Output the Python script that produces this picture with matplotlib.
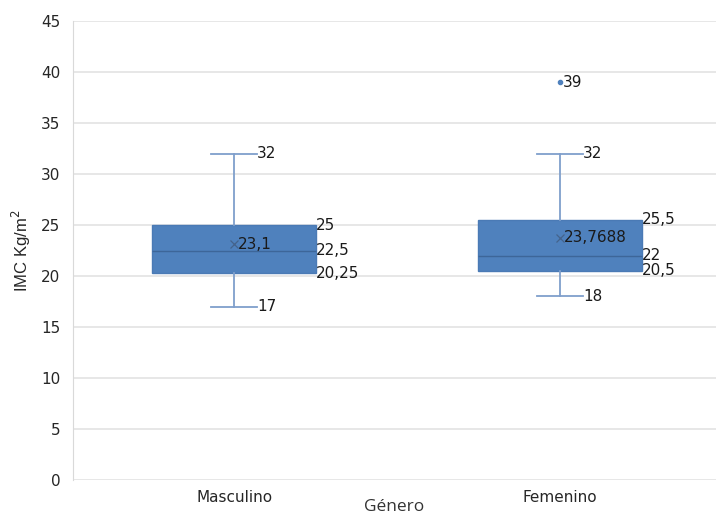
import matplotlib
matplotlib.use("Agg")
import matplotlib.pyplot as plt

categories = ["Masculino", "Femenino"]
whisker_low = [17, 18]
q1 = [20.25, 20.5]
median = [22.5, 22]
q3 = [25, 25.5]
whisker_high = [32, 32]
means = [23.1, 23.7688]
outliers = [[], [39]]
yticks = [0, 5, 10, 15, 20, 25, 30, 35, 40, 45]

def fmt(v):
    s = ("%g" % v) if v != int(v) else str(int(v))
    return s.replace(".", ",")

fig = plt.figure(figsize=(7.16, 5.15), dpi=100)
ax = fig.add_axes([0.102, 0.068, 0.898, 0.891])

stats = []
for i in range(len(categories)):
    stats.append(dict(med=median[i], q1=q1[i], q3=q3[i], whislo=whisker_low[i],
                      whishi=whisker_high[i], mean=means[i], fliers=outliers[i],
                      label=categories[i]))

box_w = 0.503
cap_w = 0.141
box_color = "#4F81BD"
ax.bxp(stats, positions=range(len(categories)), widths=box_w, capwidths=cap_w,
       showmeans=True, patch_artist=True, manage_ticks=False,
       boxprops=dict(facecolor=box_color, edgecolor="#4A7AB5", linewidth=1),
       medianprops=dict(color="#3D6699", linewidth=1),
       whiskerprops=dict(color="#7F9FCC", linewidth=1.3),
       capprops=dict(color="#7F9FCC", linewidth=1.3),
       meanprops=dict(marker="x", markeredgecolor="#44638C", markersize=6, markeredgewidth=0.9),
       flierprops=dict(marker="o", markerfacecolor=box_color, markeredgecolor=box_color, markersize=3))

ax.set_xlim(-0.494, 1.478)
ax.set_ylim(0, 45)
ax.set_yticks(yticks)
ax.set_xticks(range(len(categories)))
ax.set_xticklabels(categories)
ax.yaxis.grid(True, color="#E3E3E3", linewidth=1.2)
ax.set_axisbelow(True)
for s in ["top", "right", "bottom"]:
    ax.spines[s].set_visible(False)
ax.spines["left"].set_color("#D9D9D9")
ax.tick_params(length=0, labelsize=11, labelcolor="#262626")
for lab in ax.get_xticklabels() + ax.get_yticklabels():
    lab.set_family("DejaVu Sans")
ax.tick_params(axis="y", pad=9)
ax.tick_params(axis="x", pad=7)

lfs = 11
lc = "#1a1a1a"
fam = "DejaVu Sans"
for i in range(len(categories)):
    x = i
    capx = x + cap_w / 2
    boxx = x + box_w / 2
    ax.text(capx, whisker_high[i], fmt(whisker_high[i]), va="center", ha="left", fontsize=lfs, color=lc, family=fam)
    ax.text(capx, whisker_low[i], fmt(whisker_low[i]), va="center", ha="left", fontsize=lfs, color=lc, family=fam)
    ax.text(boxx, q3[i], fmt(q3[i]), va="center", ha="left", fontsize=lfs, color=lc, family=fam)
    ax.text(boxx, median[i], fmt(median[i]), va="center", ha="left", fontsize=lfs, color=lc, family=fam)
    ax.text(boxx, q1[i], fmt(q1[i]), va="center", ha="left", fontsize=lfs, color=lc, family=fam)
    ax.text(x + 0.012, means[i], fmt(means[i]), va="center", ha="left", fontsize=lfs, color=lc, family=fam)
    for o in outliers[i]:
        ax.text(x + 0.008, o, fmt(o), va="center", ha="left", fontsize=lfs, color=lc, family=fam)

ax.set_ylabel("IMC Kg/m$^2$", fontsize=12, color="#262626", family="Liberation Sans", labelpad=6)
ax.set_xlabel("Género", fontsize=12.5, color="#333333", family="Open Sans", labelpad=-4)

fig.savefig("out.png", dpi=100)
